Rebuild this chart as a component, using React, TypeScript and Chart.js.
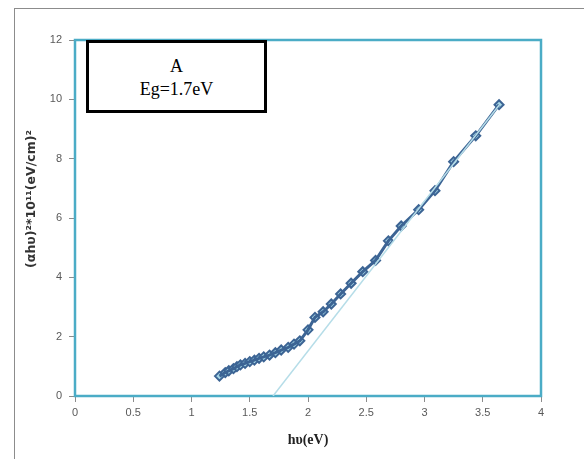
import React, { useEffect, useRef } from "react";
import { Chart, registerables } from "chart.js";

Chart.register(...registerables);

const hvValues = [
  1.24, 1.29, 1.32, 1.36, 1.39, 1.42, 1.46, 1.5, 1.54, 1.58, 1.62, 1.67, 1.72, 1.77,
  1.83, 1.88, 1.93, 2.0, 2.06, 2.13, 2.2, 2.28, 2.37, 2.47, 2.58, 2.69, 2.8, 2.95,
  3.09, 3.25, 3.44, 3.64,
];
const alphaValues = [
  0.67, 0.79, 0.85, 0.92, 0.99, 1.05, 1.1, 1.16, 1.21, 1.27, 1.32, 1.38, 1.46, 1.55,
  1.64, 1.75, 1.86, 2.23, 2.65, 2.84, 3.1, 3.44, 3.8, 4.19, 4.57, 5.23, 5.73, 6.28,
  6.92, 7.9, 8.77, 9.82,
];
const fitX = [1.7, 3.65];
const fitY = [0, 9.85];

const xTitle = "hυ(eV)";
const yTitle = "(αhυ)²*10¹¹(eV/cm)²";
const boxLine1 = "A";
const boxLine2 = "Eg=1.7eV";

const TEAL = "#4BACC6";

export default function App() {
  const ref = useRef<HTMLCanvasElement | null>(null);

  useEffect(() => {
    if (!ref.current) return;
    const pts = hvValues.map((x, i) => ({ x, y: alphaValues[i] }));
    const fit = fitX.map((x, i) => ({ x, y: fitY[i] }));

    const framePlugin = {
      id: "frame",
      beforeDatasetsDraw(chart: any) {
        const { ctx, chartArea: a } = chart;
        ctx.save();
        ctx.strokeStyle = TEAL;
        ctx.lineWidth = 2.5;
        ctx.strokeRect(a.left, a.top, a.right - a.left, a.bottom - a.top);
        ctx.restore();
      },
      afterDraw(chart: any) {
        const { ctx, chartArea: a } = chart;
        ctx.save();
        ctx.translate(a.left - 43, (a.top + a.bottom) / 2 - 19);
        ctx.rotate(-Math.PI / 2);
        ctx.font = "bold 12.5px 'DejaVu Sans'";
        ctx.fillStyle = "#333";
        ctx.textAlign = "center";
        ctx.textBaseline = "middle";
        ctx.fillText(yTitle, 0, 0);
        ctx.restore();
      },
    };

    const chart = new Chart(ref.current, {
      type: "scatter",
      data: {
        datasets: [
          {
            data: fit,
            showLine: true,
            borderColor: "#B6DDE8",
            borderWidth: 1.5,
            pointRadius: 0,
          },
          {
            data: pts,
            showLine: true,
            borderColor: "#3C6494",
            borderWidth: 3,
            pointRadius: 0,
          },
          {
            data: pts,
            showLine: true,
            borderColor: "#8FC3DC",
            borderWidth: 1,
            pointRadius: 0,
          },
          {
            data: pts,
            showLine: false,
            pointStyle: "rectRot",
            pointRadius: 4.5,
            pointBorderWidth: 2,
            pointBorderColor: "#3C6494",
            pointBackgroundColor: "#A5D5E6",
          },
        ],
      },
      options: {
        responsive: false,
        animation: false,
        events: [],
        layout: { padding: { top: 40, right: 43, left: 0, bottom: 0 } },
        plugins: { legend: { display: false }, tooltip: { enabled: false } },
        scales: {
          x: {
            type: "linear",
            min: 0,
            max: 4,
            afterFit: (s: any) => {
              s.height = 63;
            },
            ticks: {
              stepSize: 0.5,
              color: "#595959",
              font: { family: "Liberation Sans", size: 11 },
              padding: 4,
              callback: (v: any) => String(Number(v)),
            },
            grid: {
              drawOnChartArea: false,
              tickLength: 6,
              tickColor: "#8c8c8c",
            },
            border: { display: false },
            title: {
              display: true,
              text: xTitle,
              color: "#222",
              font: { family: "Liberation Serif", size: 14, weight: "bold" },
              padding: { top: 11, bottom: 10 },
            },
          },
          y: {
            type: "linear",
            min: 0,
            max: 12,
            afterFit: (s: any) => {
              s.width = 75;
            },
            ticks: {
              stepSize: 2,
              color: "#595959",
              font: { family: "Liberation Sans", size: 11 },
              padding: 7,
            },
            grid: {
              drawOnChartArea: false,
              tickLength: 6,
              tickColor: "#8c8c8c",
            },
            border: { display: false },
            title: { display: false },
          },
        },
      },
      plugins: [framePlugin],
    });
    return () => chart.destroy();
  }, []);

  return (
    <div
      style={{
        position: "fixed",
        left: 0,
        top: 0,
        width: 584,
        height: 459,
        overflow: "hidden",
        background: "#fff",
      }}
    >
      <div
        style={{
          position: "absolute",
          left: 14,
          top: 8,
          width: 620,
          height: 520,
          border: "1px solid #8c8c8c",
        }}
      />
      <canvas
        ref={ref}
        width={584}
        height={459}
        style={{ position: "absolute", left: 0, top: 0 }}
      />
      <div
        style={{
          position: "absolute",
          left: 86,
          top: 40,
          width: 181,
          height: 73,
          boxSizing: "border-box",
          border: "3px solid #000",
          background: "#fff",
          fontFamily: "Liberation Serif",
          fontSize: 18,
          lineHeight: "23px",
          textAlign: "center",
          paddingTop: 12,
          color: "#000",
        }}
      >
        <div>{boxLine1}</div>
        <div>{boxLine2}</div>
      </div>
    </div>
  );
}
